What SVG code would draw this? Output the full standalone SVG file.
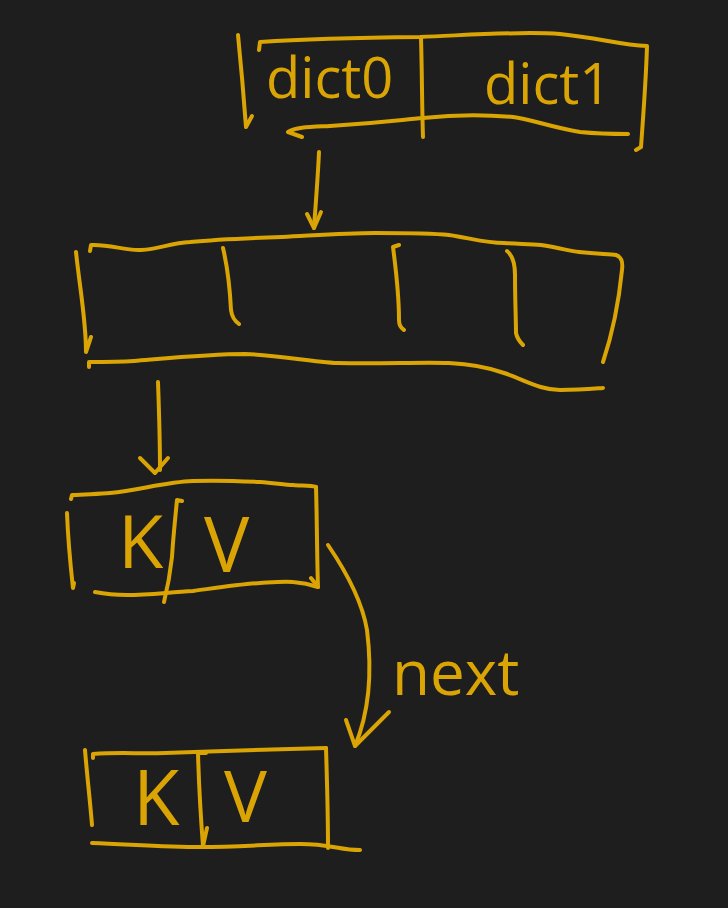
<svg xmlns="http://www.w3.org/2000/svg" width="728" height="908" viewBox="0 0 728 908">
<style>
.s{fill:none;stroke:#D9A404;stroke-width:4;stroke-linecap:round;stroke-linejoin:round}
.t{fill:#D9A404;font-family:"Open Sans","Liberation Sans",sans-serif;font-weight:400}
</style>
<rect width="728" height="908" fill="#1E1E1E"/>
<g id="dict-array">
<path class="s" d="M238,35 C241,65 244,100 246,127 L252,116"/>
<path class="s" d="M259,50 L260,42 C290,40 330,38 420,37 C470,35 520,31 560,34 C600,38 620,45 647,46 C646,80 643,120 641,147 L636,150"/>
<path class="s" d="M302,137 L288,132 C296,127 310,127 330,126 C380,123 400,120 423,118 C450,115 480,114 513,117 C530,119 550,127 580,132 C600,134 615,134 628,134"/>
<path class="s" d="M421,38 C422,70 422,110 423,137"/>
<text class="t" x="266" y="98" font-size="56">dict0</text>
<text class="t" x="484" y="104" font-size="56">dict1</text>
</g>
<g id="hash-table">
<path class="s" d="M76,252 C80,290 86,320 86,352 L91,337"/>
<path class="s" d="M90,251 L91,245 C110,244 125,251 141,250 C160,249 170,243 190,242 C220,239 250,238 282,237 C320,235 345,233 375,233 C410,233 430,233 449,235 C470,238 485,243 504,243 C520,244 530,244 541,245 C560,248 570,251 579,252 C600,254 610,254 616,255 C622,257 623,262 622,270 C619,300 612,335 603,362"/>
<path class="s" d="M89,367 L89,362 C105,362 118,362 134,361 C170,358 210,354 245,354 C280,355 310,362 338,363 C380,364 420,362 449,363 C470,364 490,368 504,373 C525,380 540,390 560,390 C580,390 590,389 603,388"/>
<path class="s" d="M223,248 C227,265 230,290 231,310 C232,318 235,321 239,324"/>
<path class="s" d="M399,245 L393,247 C396,270 399,295 399,320 C399,325 401,328 404,330"/>
<path class="s" d="M507,251 C512,255 515,262 515,275 C515,300 516,320 516,333 C517,338 520,342 523,345"/>
</g>
<g id="entry1">
<path class="s" d="M67,513 C68,540 71,570 73,588 L74,583"/>
<path class="s" d="M71,499 L72,495 C90,494 100,494 110,493 C140,490 165,482 193,481 C220,480 240,481 260,482 C275,483 285,485 293,485 C300,486 310,485 316,487"/>
<path class="s" d="M316,487 C317,520 317,560 318,587 L311,578"/>
<path class="s" d="M95,592 C105,594 115,595 127,595 C150,595 170,592 193,591 C215,588 240,584 260,583 C275,582 285,581 293,582 C305,583 312,585 318,587"/>
<path class="s" d="M182,501 L177,500 C175,520 173,540 172,557 C170,575 167,590 164,602"/>
<text class="t" x="118" y="568" font-size="74">K</text>
<text class="t" x="204" y="572" font-size="76">V</text>
</g>
<g id="entry2">
<path class="s" d="M85,750 C87,775 90,800 92,825"/>
<path class="s" d="M93,758 L93,754 C120,752 140,754 165,753 C220,751 280,749 326,748"/>
<path class="s" d="M326,748 C327,780 328,820 328,848"/>
<path class="s" d="M92,843 C140,845 170,847 200,847 C240,847 270,844 300,844 C330,844 340,850 360,850"/>
<path class="s" d="M206,753 L198,753 C199,790 201,820 203,846 L207,828"/>
<text class="t" x="133" y="825" font-size="76">K</text>
<text class="t" x="224" y="822" font-size="72">V</text>
</g>
<g id="connectors">
<path class="s" d="M319,152 C318,175 316,200 314,228"/>
<path class="s" d="M307,214 L314,228 L321,212"/>
<path class="s" d="M158,382 C159,410 160,440 160,470"/>
<path class="s" d="M140,458 L155,473 L168,458"/>
<path class="s" d="M328,545 C345,570 362,600 367,630 C372,670 370,710 355,746"/>
<path class="s" d="M346,720 L355,746 L389,712"/>
<text class="t" x="392" y="695" font-size="62">next</text>
</g>
</svg>
